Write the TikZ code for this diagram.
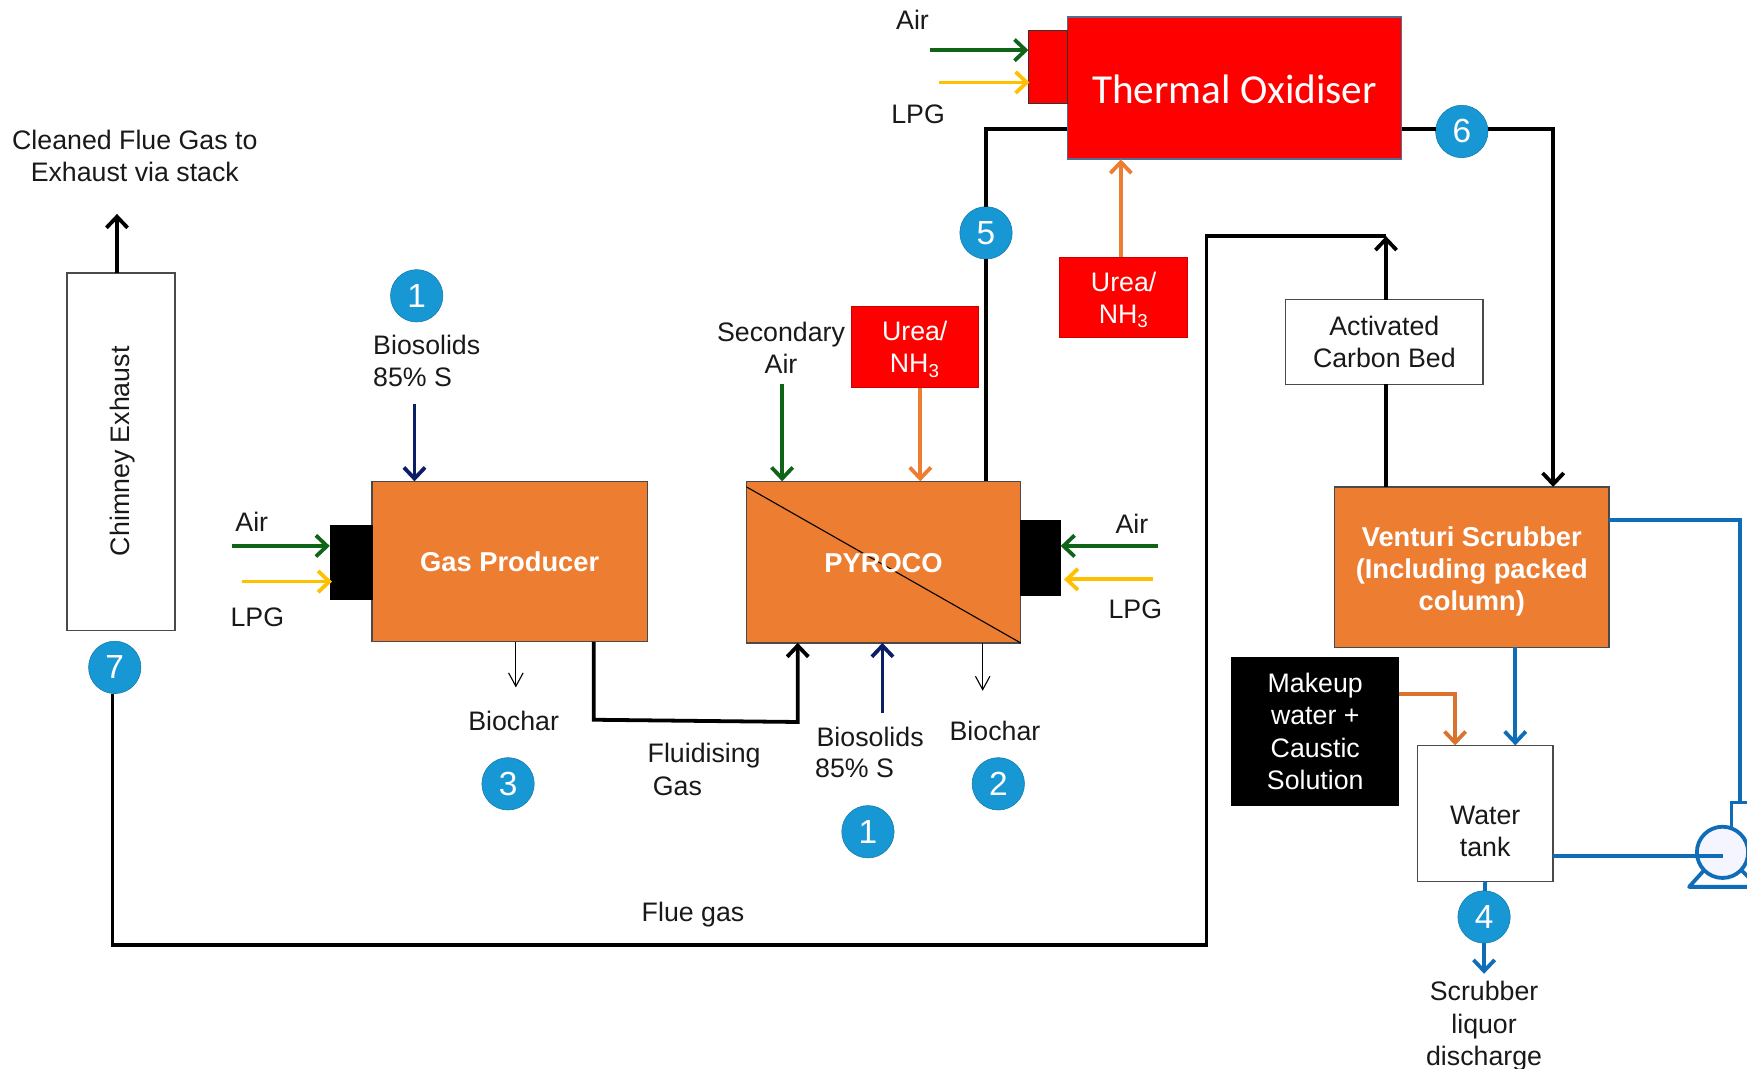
\documentclass[tikz,border=0pt]{standalone}
\usepackage{fontspec}
\setmainfont{Liberation Sans}
\newfontfamily\carlitofont{Carlito}
\usetikzlibrary{arrows.meta}
\definecolor{orbox}{HTML}{ED7D31}
\definecolor{redbox}{HTML}{FF0000}
\definecolor{numblue}{HTML}{1798D5}
\definecolor{pipeblue}{HTML}{0F6CB6}
\definecolor{airgreen}{HTML}{0F6418}
\definecolor{lpgyellow}{HTML}{FFC000}
\definecolor{navyflow}{HTML}{0B1F66}
\definecolor{edgegrey}{HTML}{4A4A4A}
\definecolor{toxedge}{HTML}{4F6F95}
\tikzset{
  x=1pt,y=-1pt,
  every node/.style={outer sep=0pt,inner sep=0pt},
  txt/.style={font=\fontsize{24}{29}\selectfont,align=center,text=black!90},
  wtxt/.style={font=\fontsize{24}{29}\selectfont,align=center,text=white},
  btxt/.style={font=\fontsize{24.5}{29}\selectfont\bfseries,align=center,text=white},
  orangebox/.style={draw=edgegrey,line width=1.2pt,fill=orbox},
  burner/.style={fill=black,draw=black,line width=.5pt},
  redunit/.style={fill=redbox,draw=redbox!80!black,line width=.6pt},
  whitebox/.style={draw=edgegrey,line width=1.2pt,fill=white},
  num/.style={circle,fill=numblue,draw=numblue!80!black,line width=.5pt,minimum size=47pt,text=white,font=\fontsize{30}{30}\selectfont},
  flow/.style={line width=3.4pt,-{Straight Barb[length=10pt,width=19pt,line width=3.4pt]}},
  gas/.style={flow,draw=black},
  gasline/.style={line width=3.2pt,draw=black,line join=miter},
  air/.style={flow,draw=airgreen},
  lpg/.style={flow,draw=lpgyellow},
  navy/.style={flow,draw=navyflow},
  urea/.style={flow,draw=orbox},
  bluef/.style={flow,draw=pipeblue},
  blueline/.style={line width=3.4pt,draw=pipeblue},
  thin/.style={line width=1pt,draw=black,-{Straight Barb[length=12pt,width=13pt,line width=1pt]}}
}
\begin{document}
\begin{tikzpicture}
\useasboundingbox (0,0) rectangle (1568,959);
% boxes
\node[whitebox,minimum width=97pt,minimum height=321pt] (chim) at (108.5,405.5) {};
\node[txt,rotate=90] (chimtxt) at (110,405) {Chimney Exhaust};
\node[orangebox,minimum width=247pt,minimum height=144pt] (gp) at (457.5,504) {};
\node[btxt] (gptxt) at (457.5,504.5) {Gas Producer};
\node[burner,minimum width=38pt,minimum height=67pt] (gpb) at (315,504.5) {};
\node[orangebox,minimum width=246pt,minimum height=145pt] (py) at (793,504.5) {};
\node[burner,minimum width=36pt,minimum height=67pt] (pyb) at (934,500.5) {};
\draw[line width=1pt,black] (py.north west) ++(0,5) -- (py.south east);
\node[btxt] (pytxt) at (793,505.5) {PYROCO};
\node[redunit,minimum width=300pt,minimum height=128pt,draw=toxedge,line width=1.5pt] (tox) at (1108,79) {};
\node[font=\carlitofont\fontsize{37}{37}\selectfont,text=white] (toxtxt) at (1108,80.5) {Thermal Oxidiser};
\node[redunit,draw=black!80,minimum width=35pt,minimum height=66pt] (toxb) at (940.5,60) {};
\node[redunit,minimum width=115pt,minimum height=72pt] (u1) at (1008.5,267) {};
\node[wtxt] (u1txt) at (1008.5,269) {Urea/\\NH\textsubscript{3}};
\node[redunit,minimum width=114pt,minimum height=73pt] (u2) at (821,311.5) {};
\node[wtxt] (u2txt) at (821,313.5) {Urea/\\NH\textsubscript{3}};
\node[whitebox,minimum width=177pt,minimum height=76pt,txt] (acb) at (1242.5,307) {Activated\\Carbon Bed};
\node[orangebox,minimum width=246pt,minimum height=144pt] (vs) at (1321,509) {};
\node[btxt] (vstxt) at (1321,513) {Venturi Scrubber\\(Including packed\\column)};
\node[fill=black,minimum width=151pt,minimum height=133pt,wtxt] (mk) at (1180.5,656.5) {Makeup\\water +\\Caustic\\Solution};
\node[whitebox,minimum width=122pt,minimum height=122pt] (wt) at (1333,730) {};
\node[txt] (wttxt) at (1333,746) {Water\\tank};
% number circles
\node[num] (n1a) at (374,265.5) {1};
\node[num] (n1b) at (779,746.5) {1};
\node[num] (n2) at (896,703.5) {2};
\node[num] (n3) at (456,703.5) {3};
\node[num] (n4) at (1332,823) {4};
\node[num] (n5) at (885,209) {5};
\node[num] (n6) at (1312,118) {6};
\node[num] (n7) at (103,599) {7};
% labels
\node[txt] (l1) at (121,140) {Cleaned Flue Gas to\\Exhaust via stack};
\node[txt,align=left,anchor=west] (l2) at (335,324) {Biosolids\\85\% S};
\node[txt] (l3) at (226,468) {Air};
\node[txt] (l4) at (231,554) {LPG};
\node[txt] (l5) at (461,647) {Biochar};
\node[txt] (l6) at (632,678) {Fluidising};
\node[txt] (l7) at (608,706) {Gas};
\node[txt] (l8) at (701,312) {Secondary\\Air};
\node[txt] (l9) at (781,661) {Biosolids};
\node[txt] (l10) at (767,690) {85\% S};
\node[txt] (l11) at (893,656) {Biochar};
\node[txt] (l12) at (1016,470) {Air};
\node[txt] (l13) at (1019,547) {LPG};
\node[txt] (l14) at (819,18) {Air};
\node[txt] (l15) at (824,103) {LPG};
\node[txt] (l16) at (622,821) {Flue gas};
\node[txt] (l17) at (1332,921) {Scrubber\\liquor\\discharge};
% free ends of the feeds
\coordinate (a1) at (208,490); \coordinate (a2) at (217,522);
\coordinate (a3) at (1039,490); \coordinate (a4) at (1035,520);
\coordinate (a5) at (835,45); \coordinate (a6) at (843,74);
\coordinate (s1) at (105,192);
\coordinate (b1) at (372,363); \coordinate (b2) at (792,640);
\coordinate (s2) at (702,345);
\coordinate (c1) at (463,617); \coordinate (c2) at (882,620);
\coordinate (d4) at (1332,874);
% connectors
\draw[gas] (105,0 |- chim.north) -- (s1);
\draw[air] (a1) -- (gpb.west |- a1);
\draw[lpg] (a2) -- (298,522);
\draw[air] (a3) -- (pyb.east |- a3);
\draw[lpg] (a4) -- (955,520);
\draw[air] (a5) -- (toxb.west |- a5);
\draw[lpg] (a6) -- (924,74);
\draw[navy] (b1) -- (b1 |- gp.north);
\draw[navy] (b2) -- (b2 |- py.south);
\draw[air] (s2) -- (s2 |- py.north);
\draw[urea] (826,0 |- u2.south) -- (826,0 |- py.north);
\draw[urea] (1006,0 |- u1.north) -- (1006,0 |- tox.south);
\draw[thin] (c1 |- gp.south) -- (c1);
\draw[thin] (c2 |- py.south) -- (c2);
\draw[gas] (533,0 |- gp.south) -- (533,646) -- (716,648) -- (716,0 |- py.south);
\draw[gasline] (n5) -- (885,0 |- py.north);
\draw[gasline] (tox.west |- 0,116) -- (885,116) -- (n5);
\draw[gasline] (tox.east |- 0,116) -- (n6.west |- 0,116);
\draw[gas] (n6.east |- 0,116) -- (1394,116) -- (1394,0 |- vs.north);
\draw[gasline] (1244,0 |- vs.north) -- (1244,0 |- acb.south);
\draw[gas] (1244,0 |- acb.north) -- (1244,212);
\draw[gasline] (101,0 |- n7.south) -- (101,848) -- (1083,848) -- (1083,212) -- (1244,212);
\draw[bluef] (1360,0 |- vs.south) -- (1360,0 |- wt.north);
\draw[flow,draw=orbox!92!black] (mk.east |- 0,623) -- (1306,623) -- (1306,0 |- wt.north);
\draw[blueline] (1333,0 |- wt.south) -- (n4);
\draw[bluef] (n4) -- (d4);
% pump
\begin{scope}
\clip (0,0) rectangle (1568,959);
\node[draw=pipeblue,line width=3pt,fill=white,minimum width=22pt,minimum height=50pt] (pst) at (1565,745) {};
\draw[blueline,fill=white,line join=round] (1516,796) -- (1534,776) -- (1558,776) -- (1578,796) -- cycle;
\node[circle,draw=pipeblue,line width=3.4pt,fill=blue!4!white,minimum size=46pt] (pump) at (1546,765) {};
\draw[blueline] (wt.east |- 0,768) -- (1546,768);
\draw[blueline] (vs.east |- 0,467) -- (1562,467) -- (1562,0 |- pst.north);
\end{scope}
\end{tikzpicture}
\end{document}
